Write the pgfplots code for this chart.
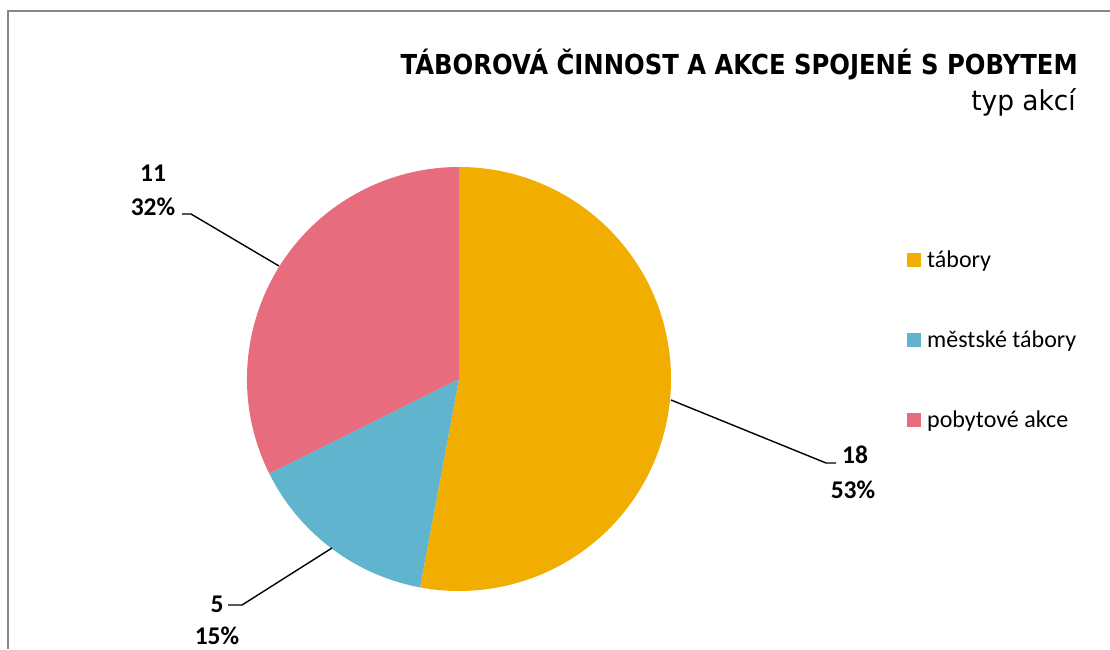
\documentclass[border=0pt]{standalone}
\usepackage{pgfplots}
\pgfplotsset{compat=1.18}
\usepackage{fontspec}
\setmainfont{Carlito}
\newfontfamily\titlefont{DejaVu Sans}
\definecolor{cTab}{RGB}{241,173,0}
\definecolor{cMes}{RGB}{97,180,205}
\definecolor{cPob}{RGB}{231,108,126}
\definecolor{frameGray}{RGB}{134,134,134}

% data: tábory, městské tábory, pobytové akce
\def\vTab{18}
\def\vMes{5}
\def\vPob{11}
\pgfmathsetmacro\tot{\vTab+\vMes+\vPob}
\pgfmathsetmacro\aA{90-360*\vTab/\tot}
\pgfmathsetmacro\aB{\aA-360*\vMes/\tot}
\def\cx{459}\def\cy{270}\def\R{212pt}

\begin{document}
\begin{tikzpicture}
\begin{axis}[x=1pt, y=1pt, xmin=0, xmax=1110, ymin=0, ymax=649,
  anchor=south west, at={(0,0)}, hide axis, clip=false]
% frame
\draw[frameGray, line width=2pt] (axis cs:8,0) -- (axis cs:8,638) -- (axis cs:1110,638);
% slices
\fill[cTab] (axis cs:\cx,\cy) -- ++(90:\R) arc[start angle=90, end angle=\aA, radius=\R] -- cycle;
\fill[cMes] (axis cs:\cx,\cy) -- ++(\aA:\R) arc[start angle=\aA, end angle=\aB, radius=\R] -- cycle;
\fill[cPob] (axis cs:\cx,\cy) -- ++(\aB:\R) arc[start angle=\aB, end angle=-270, radius=\R] -- cycle;
% leader lines
\draw[black, line width=1.4pt] (axis cs:279,383) -- (axis cs:191,435) -- (axis cs:182,435);
\draw[black, line width=1.4pt] (axis cs:671,249) -- (axis cs:826,186) -- (axis cs:836,186);
\draw[black, line width=1.4pt] (axis cs:332,101) -- (axis cs:242,44) -- (axis cs:228,44);
% data labels
\begin{scope}[every node/.style={font=\fontsize{25.5}{30}\bfseries\selectfont, inner sep=0pt, anchor=base}]
\node at (axis cs:153,467) {11};
\node at (axis cs:153,433) {32\%};
\node at (axis cs:855,186) {18};
\node at (axis cs:853,151) {53\%};
\node at (axis cs:217,37) {5};
\node at (axis cs:217,5) {15\%};
\end{scope}
% legend
\fill[cTab] (axis cs:907,382) rectangle (axis cs:921,396);
\fill[cMes] (axis cs:907,302) rectangle (axis cs:921,316);
\fill[cPob] (axis cs:907,222) rectangle (axis cs:921,236);
\begin{scope}[every node/.style={font=\fontsize{24}{28}\selectfont, inner sep=0pt, anchor=base west}]
\node at (axis cs:927,382) {tábory};
\node at (axis cs:927,302) {městské tábory};
\node at (axis cs:927,222) {pobytové akce};
\end{scope}
% title
\node[anchor=base east, inner sep=0pt, font=\titlefont\bfseries\fontsize{27.5}{32}\selectfont] at (axis cs:1078,574) {\scalebox{0.884}[1]{TÁBOROVÁ ČINNOST A AKCE SPOJENÉ S POBYTEM}};
\node[anchor=base east, inner sep=0pt, font=\titlefont\fontsize{27.5}{32}\selectfont] at (axis cs:1076,538) {\scalebox{0.96}[1]{typ akcí}};
\end{axis}
\pgfresetboundingbox
\path[use as bounding box] (0,0) rectangle (1110pt,649pt);
\end{tikzpicture}
\end{document}
